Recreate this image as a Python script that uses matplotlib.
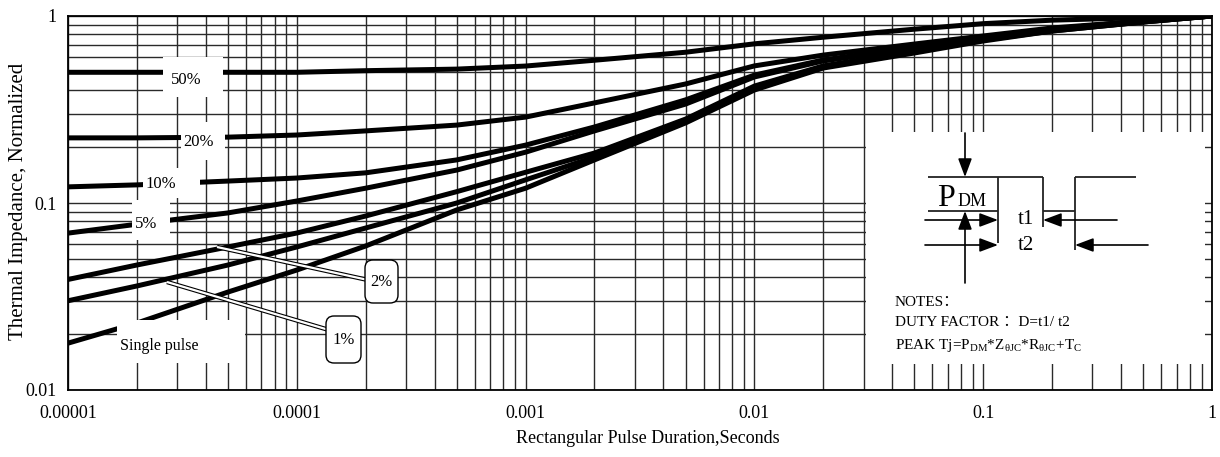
import matplotlib
matplotlib.use('Agg')
import matplotlib.pyplot as plt
from matplotlib.patches import Rectangle, FancyBboxPatch
from matplotlib.ticker import LogLocator, NullFormatter

plt.rcParams['font.family'] = ['Liberation Serif', 'DejaVu Serif']
plt.rcParams['mathtext.fontset'] = 'custom'
plt.rcParams['mathtext.rm'] = 'Liberation Serif'
plt.rcParams['mathtext.it'] = 'Liberation Serif:italic'
plt.rcParams['mathtext.bf'] = 'Liberation Serif:bold'

# ---------------- data ----------------
pulse_duration = [1e-5, 2e-5, 5e-5, 1e-4, 2e-4, 5e-4, 1e-3, 2e-3, 5e-3,
                  1e-2, 2e-2, 5e-2, 0.1, 0.2, 0.5, 1.0]
duty_50 = [0.50, 0.50, 0.50, 0.50, 0.51, 0.52, 0.54, 0.58, 0.64,
           0.71, 0.77, 0.85, 0.91, 0.95, 0.98, 1.0]
duty_20 = [0.223, 0.223, 0.225, 0.231, 0.243, 0.261, 0.288, 0.343, 0.433,
           0.541, 0.618, 0.708, 0.782, 0.863, 0.940, 1.0]
duty_10 = [0.122, 0.125, 0.131, 0.136, 0.145, 0.170, 0.204, 0.255, 0.356,
           0.483, 0.582, 0.683, 0.772, 0.852, 0.940, 1.0]
duty_5 = [0.069, 0.077, 0.0885, 0.1025, 0.120, 0.150, 0.187, 0.243, 0.338,
          0.472, 0.575, 0.674, 0.763, 0.852, 0.940, 1.0]
duty_2 = [0.039, 0.0466, 0.0582, 0.0691, 0.0852, 0.115, 0.146, 0.185, 0.281,
          0.422, 0.541, 0.650, 0.754, 0.842, 0.929, 1.0]
duty_1 = [0.030, 0.036, 0.0466, 0.0582, 0.0735, 0.100, 0.133, 0.176, 0.275,
          0.412, 0.534, 0.642, 0.744, 0.831, 0.929, 1.0]
single_pulse = [0.0178, 0.0228, 0.0334, 0.0438, 0.0589, 0.0918, 0.120, 0.170, 0.268,
                0.402, 0.527, 0.634, 0.735, 0.831, 0.929, 1.0]

series = [duty_50, duty_20, duty_10, duty_5, duty_2, duty_1, single_pulse]

x_tick_values = [1e-5, 1e-4, 1e-3, 1e-2, 1e-1, 1]
x_tick_labels = ["0.00001", "0.0001", "0.001", "0.01", "0.1", "1"]
y_tick_values = [0.01, 0.1, 1]
y_tick_labels = ["0.01", "0.1", "1"]

# ---------------- figure ----------------
W, H = 1220, 457
AX_L, AX_R, AX_T, AX_B = 68, 1212, 16, 390
fig = plt.figure(figsize=(W / 100, H / 100), dpi=100)
ax = fig.add_axes([AX_L / W, (H - AX_B) / H, (AX_R - AX_L) / W, (AX_B - AX_T) / H])


def P(px, py):
    """pixel position -> axes fraction (layout helper)"""
    return ((px - AX_L) / (AX_R - AX_L), (AX_B - py) / (AX_B - AX_T))


ax.set_xscale('log')
ax.set_yscale('log')
ax.set_xlim(1e-5, 1)
ax.set_ylim(0.01, 1)

ax.set_xticks(x_tick_values, x_tick_labels)
ax.set_yticks(y_tick_values, y_tick_labels)
ax.xaxis.set_minor_locator(LogLocator(base=10, subs=range(2, 10)))
ax.yaxis.set_minor_locator(LogLocator(base=10, subs=range(2, 10)))
ax.xaxis.set_minor_formatter(NullFormatter())
ax.yaxis.set_minor_formatter(NullFormatter())
ax.tick_params(which='both', length=0)
ax.tick_params(axis='x', labelsize=13, pad=11)
ax.tick_params(axis='y', labelsize=13, pad=8)

ax.set_axisbelow(True)
ax.grid(which='both', color='#2a2a2a', lw=1.0)
for s in ax.spines.values():
    s.set_linewidth(1.3)
    s.set_color('black')

for vals in series:
    ax.plot(pulse_duration, vals, color='black', lw=3.6,
            solid_capstyle='round', solid_joinstyle='round', zorder=3)

ax.set_xlabel('Rectangular Pulse Duration,Seconds', fontsize=13)
ax.xaxis.set_label_coords(*P(648, 430))
ax.set_ylabel('Thermal Impedance, Normalized', fontsize=15)
ax.yaxis.set_label_coords(*P(28, 201))

tA = ax.transAxes


def white_box(x0, y0, x1, y1, z=4):
    fx0, fy1 = P(x0, y1)
    fx1, fy0 = P(x1, y0)
    ax.add_patch(Rectangle((fx0, fy1), fx1 - fx0, fy0 - fy1, transform=tA,
                           facecolor='white', edgecolor='none', zorder=z))


def label(txt, px, py, size=12, z=7, **kw):
    ax.text(*P(px, py), txt, transform=tA, ha='center', va='center',
            fontsize=size, zorder=z, **kw)


# plain white label patches
white_box(163, 57, 223, 97)
label('50%', 186, 80)
white_box(181, 122, 225, 160)
label('20%', 199, 142)
white_box(143, 168, 200, 198)
label('10%', 161, 184)
white_box(132, 200, 170, 240)
label('5%', 146, 224)
white_box(117, 320, 245, 363)
label('Single pulse', 159, 346, size=11.5)

# leader lines with rounded boxes
for (x0, y0, x1, y1) in [(217, 247, 368, 280), (167, 282, 329, 330)]:
    a, b = P(x0, y0), P(x1, y1)
    ax.plot([a[0], b[0]], [a[1], b[1]], transform=tA, color='black', lw=3.2,
            solid_capstyle='butt', zorder=5)
    ax.plot([a[0], b[0]], [a[1], b[1]], transform=tA, color='white', lw=1.6,
            solid_capstyle='butt', zorder=5.5)

asp = (AX_R - AX_L) / (AX_B - AX_T)
for (x0, y0, x1, y1, txt) in [(365, 260, 398, 303, '2%'), (326, 316, 361, 363, '1%')]:
    fx0, fy1 = P(x0, y1)
    fx1, fy0 = P(x1, y0)
    ax.add_patch(FancyBboxPatch((fx0, fy1), fx1 - fx0, fy0 - fy1,
                                boxstyle='round,pad=0,rounding_size=0.007',
                                mutation_aspect=asp, transform=tA,
                                facecolor='white', edgecolor='black', lw=1.0, zorder=6))
    label(txt, (x0 + x1) / 2, (y0 + y1) / 2 + 1)

# ---------------- inset note area ----------------
white_box(866, 132, 1205, 364)


def seg(x0, y0, x1, y1, lw=1.3, color='#222222'):
    a, b = P(x0, y0), P(x1, y1)
    ax.plot([a[0], b[0]], [a[1], b[1]], transform=tA, color=color, lw=lw,
            solid_capstyle='butt', zorder=5)


def arrow(x0, y0, x1, y1):
    ax.annotate('', xy=P(x1, y1), xytext=P(x0, y0), xycoords='axes fraction',
                textcoords='axes fraction',
                arrowprops=dict(arrowstyle='-|>,head_length=0.8,head_width=0.3',
                                color='black', lw=1.2, mutation_scale=14,
                                shrinkA=0, shrinkB=0), zorder=6)


seg(928, 177, 1043, 177)
seg(998, 177, 998, 243)
seg(1043, 177, 1043, 227)
seg(1075, 177, 1075, 250)
seg(1075, 177, 1136, 177)
seg(928, 211, 998, 211)
seg(1043, 211, 1075, 211)
arrow(965, 133, 965, 177)
arrow(965, 283, 965, 211)
arrow(925, 220, 998, 220)
arrow(1117, 220, 1043, 220)
arrow(925, 245, 998, 245)
arrow(1148, 245, 1075, 245)

ax.text(*P(937, 206), 'P', transform=tA, ha='left', va='baseline', fontsize=23, zorder=7)
ax.text(*P(958, 206), 'DM', transform=tA, ha='left', va='baseline', fontsize=13, zorder=7)
label('t1', 1026, 219, size=15)
label('t2', 1026, 245, size=15)

notes_font = ['Liberation Serif', 'Noto Sans CJK SC']
ax.text(*P(895, 302), 'NOTES：', transform=tA, ha='left', va='center',
        fontsize=11, family=notes_font, zorder=7)
ax.text(*P(895, 323), 'DUTY FACTOR ：D=t1/ t2', transform=tA, ha='left', va='center',
        fontsize=11, family=notes_font, zorder=7)
ax.text(*P(895, 345),
        r'PEAK Tj=P$_\mathrm{DM}$*Z$_{\mathrm{\theta JC}}$*R$_{\mathrm{\theta JC}}$+T$_\mathrm{C}$',
        transform=tA, ha='left', va='center', fontsize=11, zorder=7)

fig.savefig('out.png', dpi=100)
